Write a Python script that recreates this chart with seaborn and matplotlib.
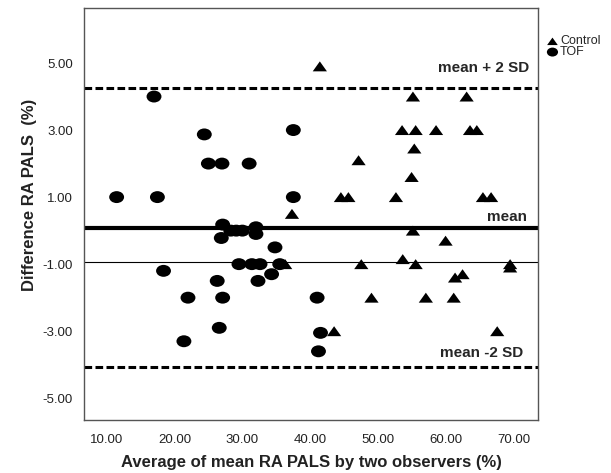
import numpy as np
import pandas as pd
import matplotlib
matplotlib.use("Agg")
import matplotlib.pyplot as plt
from matplotlib.path import Path
import seaborn as sns

# Control group (triangles)
ctrl_x = [41.4, 55.1, 63.0, 53.5, 55.5, 58.5, 63.5, 64.5, 55.3, 47.1, 54.9,
          44.5, 45.6, 52.6, 65.4, 66.6, 37.3, 55.1, 59.9, 36.3, 47.5, 53.6,
          55.5, 61.3, 62.4, 69.4, 69.4, 49.0, 57.0, 61.1, 43.5, 67.5]
ctrl_y = [4.9, 4.0, 4.0, 3.0, 3.0, 3.0, 3.0, 3.0, 2.45, 2.1, 1.6,
          1.0, 1.0, 1.0, 1.0, 1.0, 0.5, 0.0, -0.3, -1.0, -1.0, -0.85,
          -1.0, -1.4, -1.3, -1.0, -1.1, -2.0, -2.0, -2.0, -3.0, -3.0]

# TOF group (circles)
tof_x = [17.0, 24.4, 25.0, 27.0, 31.0, 37.5, 11.5, 17.5, 37.5, 27.1, 26.9,
         28.3, 29.1, 30.0, 32.0, 32.0, 34.8, 18.4, 29.5, 31.4, 32.6, 35.5,
         34.3, 26.3, 32.3, 22.0, 27.1, 41.0, 26.6, 21.4, 41.5, 41.2]
tof_y = [4.0, 2.87, 2.0, 2.0, 2.0, 3.0, 1.0, 1.0, 1.0, 0.18, -0.22,
         0.0, 0.0, 0.0, 0.1, -0.1, -0.5, -1.2, -1.0, -1.0, -1.0, -1.0,
         -1.3, -1.5, -1.5, -2.0, -2.0, -2.0, -2.9, -3.3, -3.05, -3.6]

mean_diff = 0.08
upper_loa = 4.25
lower_loa = -4.07
ref_line = -0.93

x_ticks = [10, 20, 30, 40, 50, 60, 70]
y_ticks = [5, 3, 1, -1, -3, -5]

ctrl = pd.DataFrame({"avg": ctrl_x, "diff": ctrl_y})
tof = pd.DataFrame({"avg": tof_x, "diff": tof_y})

# flattened markers like the original (wide ellipse, low triangle)
circ = Path.unit_circle()
ellipse = Path(circ.vertices * [1.0, 0.8], circ.codes)
tri = Path([(0, 0.7), (-1, -0.7), (1, -0.7), (0, 0.7)],
           [Path.MOVETO, Path.LINETO, Path.LINETO, Path.CLOSEPOLY])

sns.set_style("white")
plt.rcParams["font.family"] = ["Liberation Sans", "DejaVu Sans"]

fig = plt.figure(figsize=(6.11, 4.73), dpi=100)
ax = fig.add_axes([0.1375, 0.112, 0.743, 0.871])

sns.scatterplot(data=ctrl, x="avg", y="diff", marker=tri, s=105, color="black",
                edgecolor="none", label="Control", ax=ax, zorder=3)
sns.scatterplot(data=tof, x="avg", y="diff", marker=ellipse, s=115, color="black",
                edgecolor="none", label="TOF", ax=ax, zorder=3)

ax.axhline(upper_loa, color="black", lw=2.2, ls=(0, (2.5, 1.1)), zorder=2)
ax.axhline(lower_loa, color="black", lw=2.2, ls=(0, (2.5, 1.1)), zorder=2)
ax.axhline(mean_diff, color="black", lw=3.0, zorder=2)
ax.axhline(ref_line, color="black", lw=0.8, zorder=2)

ax.text(72.2, 4.86, "mean + 2 SD", ha="right", va="center", fontsize=11, fontweight="bold")
ax.text(71.9, 0.42, "mean", ha="right", va="center", fontsize=11, fontweight="bold")
ax.text(71.3, -3.66, "mean -2 SD", ha="right", va="center", fontsize=11, fontweight="bold")

ax.set_xlim(6.7, 73.5)
ax.set_ylim(-5.65, 6.64)
ax.set_xticks(x_ticks)
ax.set_xticklabels([f"{v:.2f}" for v in x_ticks])
ax.set_yticks(y_ticks)
ax.set_yticklabels([f"{v:.2f}" for v in y_ticks])
ax.tick_params(axis="both", direction="out", length=5, width=0.8, color="#555555",
               labelsize=9.5, labelcolor="#222222", pad=3)
ax.tick_params(axis="x", pad=5)
for sp in ax.spines.values():
    sp.set_color("#555555")
    sp.set_linewidth(1.0)

ax.set_xlabel("")
ax.set_ylabel("")
fig.text(0.509, 0.023, "Average of mean RA PALS by two observers (%)", ha="center",
         va="center", fontsize=12, fontweight="bold", color="#222222")
fig.text(0.049, 0.588, "Difference RA PALS  (%)", ha="center", va="center",
         rotation=90, fontsize=12, fontweight="bold", color="#222222")

ax.legend_.remove()
handles, labels = ax.get_legend_handles_labels()
fig.legend(handles, labels, loc="upper left", bbox_to_anchor=(0.896, 0.926),
           frameon=False, fontsize=9, handletextpad=0.2, borderaxespad=0,
           borderpad=0, labelspacing=-0.1, handlelength=0.8, handleheight=0.5,
           markerscale=0.75)

fig.savefig("out.png", dpi=100)
